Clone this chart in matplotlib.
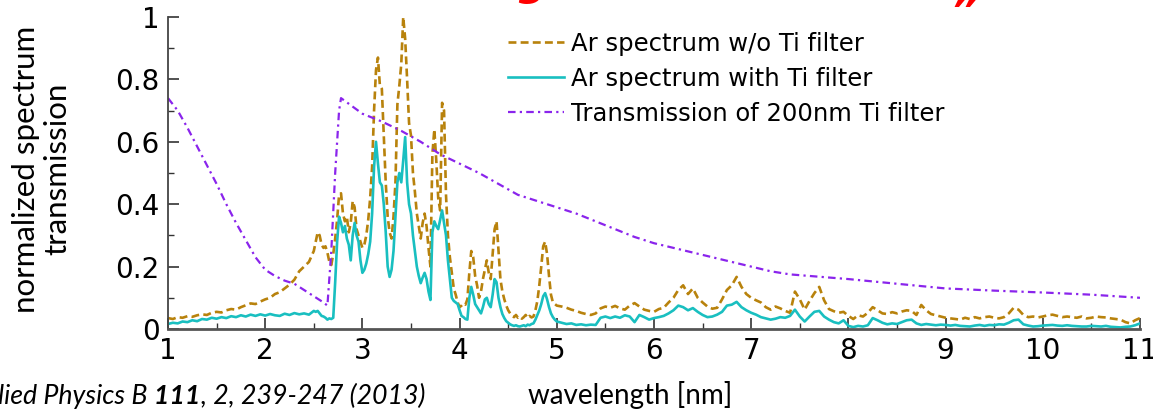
import numpy as np
import matplotlib
matplotlib.use("Agg")
import matplotlib.pyplot as plt
from matplotlib.ticker import MultipleLocator, FuncFormatter

# ---------------- data ----------------
# wavelength grid [nm]: coarse / fine (line region) / coarse
wl_seg1 = np.round(np.arange(1.00, 2.501, 0.05), 2)   # 31 pts
wl_seg2 = np.round(np.arange(2.52, 5.001, 0.02), 2)   # 125 pts
wl_seg3 = np.round(np.arange(5.05, 11.001, 0.05), 2)  # 120 pts
wavelength = np.concatenate([wl_seg1, wl_seg2, wl_seg3])

ar_no_filter_1 = [0.035, 0.032, 0.038, 0.036, 0.041, 0.039, 0.044, 0.047, 0.045, 0.052,
                  0.055, 0.053, 0.060, 0.064, 0.062, 0.070, 0.076, 0.082, 0.080, 0.088,
                  0.095, 0.100, 0.112, 0.118, 0.130, 0.142, 0.158, 0.185, 0.200, 0.215,
                  0.250]
ar_no_filter_2 = [0.280, 0.310, 0.300, 0.270, 0.260, 0.265, 0.245, 0.215, 0.205, 0.240,
                  0.290, 0.350, 0.430, 0.435, 0.370, 0.345, 0.360, 0.310, 0.340, 0.410,
                  0.390, 0.320, 0.300, 0.280, 0.260, 0.270, 0.300, 0.350, 0.420, 0.520,
                  0.700, 0.830, 0.870, 0.780, 0.770, 0.620, 0.470, 0.360, 0.310, 0.290,
                  0.360, 0.470, 0.720, 0.780, 0.850, 1.000, 0.930, 0.800, 0.660, 0.620,
                  0.500, 0.440, 0.370, 0.330, 0.290, 0.340, 0.370, 0.330, 0.260, 0.200,
                  0.560, 0.640, 0.540, 0.420, 0.380, 0.725, 0.700, 0.430, 0.300, 0.230,
                  0.180, 0.130, 0.110, 0.085, 0.070, 0.075, 0.082, 0.078, 0.095, 0.180,
                  0.250, 0.230, 0.170, 0.140, 0.100, 0.120, 0.160, 0.190, 0.220, 0.180,
                  0.160, 0.240, 0.320, 0.345, 0.250, 0.160, 0.120, 0.095, 0.075, 0.060,
                  0.050, 0.042, 0.038, 0.045, 0.036, 0.040, 0.033, 0.038, 0.045, 0.035,
                  0.042, 0.037, 0.040, 0.060, 0.090, 0.140, 0.200, 0.265, 0.280, 0.240,
                  0.170, 0.110, 0.085, 0.080, 0.075]
ar_no_filter_3 = [0.072, 0.068, 0.062, 0.058, 0.052, 0.048, 0.045, 0.050, 0.066, 0.072,
                  0.068, 0.074, 0.066, 0.062, 0.075, 0.083, 0.072, 0.062, 0.058, 0.055,
                  0.064, 0.068, 0.085, 0.100, 0.125, 0.140, 0.112, 0.130, 0.100, 0.085,
                  0.072, 0.065, 0.068, 0.095, 0.125, 0.140, 0.167, 0.135, 0.112, 0.100,
                  0.092, 0.085, 0.070, 0.062, 0.072, 0.066, 0.058, 0.052, 0.120, 0.095,
                  0.062, 0.090, 0.115, 0.135, 0.092, 0.064, 0.057, 0.052, 0.055, 0.042,
                  0.032, 0.044, 0.040, 0.052, 0.070, 0.060, 0.050, 0.048, 0.054, 0.050,
                  0.056, 0.060, 0.058, 0.045, 0.077, 0.060, 0.048, 0.044, 0.040, 0.036,
                  0.034, 0.032, 0.030, 0.036, 0.032, 0.038, 0.034, 0.038, 0.040, 0.036,
                  0.034, 0.038, 0.050, 0.068, 0.062, 0.045, 0.038, 0.040, 0.037, 0.040,
                  0.044, 0.046, 0.042, 0.038, 0.040, 0.038, 0.036, 0.040, 0.034, 0.036,
                  0.040, 0.038, 0.037, 0.034, 0.032, 0.030, 0.022, 0.018, 0.028, 0.035]

ar_ti_filter_1 = [0.016, 0.020, 0.018, 0.024, 0.022, 0.028, 0.025, 0.032, 0.030, 0.036,
                  0.033, 0.038, 0.035, 0.041, 0.038, 0.044, 0.040, 0.046, 0.042, 0.047,
                  0.043, 0.048, 0.044, 0.042, 0.049, 0.045, 0.051, 0.047, 0.050, 0.046,
                  0.058]
ar_ti_filter_2 = [0.055, 0.058, 0.050, 0.042, 0.040, 0.036, 0.030, 0.034, 0.032, 0.036,
                  0.150, 0.280, 0.360, 0.340, 0.310, 0.330, 0.290, 0.270, 0.220, 0.300,
                  0.340, 0.300, 0.280, 0.220, 0.180, 0.190, 0.210, 0.240, 0.280, 0.370,
                  0.520, 0.600, 0.530, 0.470, 0.460, 0.400, 0.310, 0.200, 0.167, 0.190,
                  0.250, 0.360, 0.470, 0.500, 0.470, 0.540, 0.615, 0.470, 0.400, 0.370,
                  0.300, 0.250, 0.200, 0.170, 0.147, 0.165, 0.180, 0.160, 0.120, 0.093,
                  0.310, 0.345, 0.330, 0.320, 0.350, 0.380, 0.340, 0.300, 0.220, 0.160,
                  0.100, 0.090, 0.085, 0.080, 0.060, 0.042, 0.038, 0.032, 0.030, 0.100,
                  0.135, 0.110, 0.080, 0.070, 0.060, 0.050, 0.070, 0.095, 0.100, 0.080,
                  0.070, 0.110, 0.160, 0.150, 0.100, 0.070, 0.048, 0.035, 0.025, 0.020,
                  0.015, 0.012, 0.010, 0.012, 0.009, 0.008, 0.010, 0.012, 0.009, 0.014,
                  0.012, 0.016, 0.018, 0.030, 0.045, 0.060, 0.080, 0.105, 0.115, 0.095,
                  0.070, 0.050, 0.038, 0.030, 0.024]
ar_ti_filter_3 = [0.020, 0.016, 0.018, 0.013, 0.015, 0.012, 0.014, 0.013, 0.036, 0.040,
                  0.035, 0.040, 0.036, 0.044, 0.040, 0.022, 0.045, 0.038, 0.030, 0.035,
                  0.038, 0.042, 0.050, 0.060, 0.075, 0.070, 0.060, 0.067, 0.055, 0.045,
                  0.038, 0.040, 0.046, 0.055, 0.075, 0.078, 0.087, 0.070, 0.060, 0.052,
                  0.046, 0.038, 0.034, 0.030, 0.033, 0.038, 0.036, 0.042, 0.062, 0.040,
                  0.024, 0.040, 0.055, 0.058, 0.040, 0.030, 0.022, 0.018, 0.028, 0.010,
                  0.006, 0.010, 0.008, 0.012, 0.035, 0.028, 0.020, 0.015, 0.018, 0.016,
                  0.022, 0.028, 0.030, 0.018, 0.013, 0.016, 0.014, 0.012, 0.014, 0.013,
                  0.011, 0.013, 0.010, 0.009, 0.008, 0.011, 0.013, 0.010, 0.013, 0.012,
                  0.015, 0.014, 0.020, 0.028, 0.030, 0.015, 0.011, 0.008, 0.009, 0.011,
                  0.012, 0.013, 0.011, 0.010, 0.012, 0.010, 0.009, 0.008, 0.008, 0.010,
                  0.009, 0.008, 0.010, 0.007, 0.006, 0.005, 0.007, 0.008, 0.012, 0.018]

ar_no_filter = np.array(ar_no_filter_1 + ar_no_filter_2 + ar_no_filter_3)
ar_ti_filter = np.array(ar_ti_filter_1 + ar_ti_filter_2 + ar_ti_filter_3)

# transmission of 200 nm Ti filter
trans_wl = [1.0, 1.1, 1.2, 1.3, 1.4, 1.5, 1.6, 1.7, 1.8, 1.9, 2.0, 2.1, 2.2, 2.3, 2.4,
            2.5, 2.6, 2.64, 2.68, 2.72, 2.76, 2.78, 3.0, 3.2, 3.4, 3.6, 3.8, 4.0, 4.2,
            4.4, 4.6, 4.8, 5.0, 5.2, 5.4, 5.6, 5.8, 6.0, 6.2, 6.4, 6.6, 6.8, 7.0, 7.2,
            7.4, 7.6, 7.8, 8.0, 8.5, 9.0, 9.5, 10.0, 10.5, 11.0]
trans = [0.740, 0.700, 0.645, 0.585, 0.525, 0.465, 0.400, 0.340, 0.285, 0.230, 0.190,
         0.170, 0.155, 0.145, 0.125, 0.105, 0.085, 0.075, 0.250, 0.500, 0.700, 0.740,
         0.690, 0.665, 0.635, 0.600, 0.560, 0.530, 0.500, 0.465, 0.430, 0.410, 0.390,
         0.370, 0.345, 0.320, 0.295, 0.275, 0.260, 0.245, 0.230, 0.215, 0.200, 0.185,
         0.175, 0.170, 0.165, 0.160, 0.145, 0.130, 0.123, 0.117, 0.110, 0.100]

labels = ["Ar spectrum w/o Ti filter", "Ar spectrum with Ti filter",
          "Transmission of 200nm Ti filter"]
x_ticks = [1, 2, 3, 4, 5, 6, 7, 8, 9, 10, 11]
y_ticks = [0, 0.2, 0.4, 0.6, 0.8, 1]

# ---------------- figure ----------------
W, H = 1153, 412
fig = plt.figure(figsize=(W / 100, H / 100), dpi=100)

def fx(px):
    return px / W

def fy(py):
    return 1 - py / H

ax = fig.add_axes([fx(168), fy(329), fx(1140) - fx(168), fy(17) - fy(329)])

c_brown = "#B8820C"
c_cyan = "#19BFC0"
c_purple = "#8A24EC"

l1, = ax.plot(wavelength, ar_no_filter, color=c_brown, lw=1.9, dashes=(3.0, 1.6),
              label=labels[0])
l2, = ax.plot(wavelength, ar_ti_filter, color=c_cyan, lw=1.9, label=labels[1])
l3, = ax.plot(trans_wl, trans, color=c_purple, lw=1.6, dashes=(3.4, 1.9, 1.0, 1.9),
              label=labels[2])

ax.set_xlim(1, 11)
ax.set_ylim(0, 1)
ax.set_xticks(x_ticks)
ax.set_yticks(y_ticks)
ax.xaxis.set_minor_locator(MultipleLocator(0.5))
ax.yaxis.set_minor_locator(MultipleLocator(0.1))
ax.yaxis.set_major_formatter(FuncFormatter(lambda v, p: "%g" % v))

for s in ["top", "right"]:
    ax.spines[s].set_visible(False)
ax.spines["left"].set_color("#444444")
ax.spines["left"].set_linewidth(1.3)
ax.spines["bottom"].set_color("#555555")
ax.spines["bottom"].set_linewidth(2.0)

ax.tick_params(which="both", direction="in", color="#333333")
ax.tick_params(which="major", length=8, width=1.2)
ax.tick_params(which="minor", length=4, width=1.0)
ax.tick_params(axis="x", which="major", pad=6)
ax.tick_params(axis="y", which="major", pad=6)
for lab in ax.get_xticklabels() + ax.get_yticklabels():
    lab.set_fontfamily("DejaVu Sans")
    lab.set_fontsize(20)
    lab.set_color("black")

leg = fig.legend(handles=[l1, l2, l3], loc="upper left",
                 bbox_to_anchor=(fx(508), fy(32)), frameon=False,
                 prop={"family": "DejaVu Sans", "size": 17.5},
                 handlelength=2.3, handletextpad=0.3, labelspacing=0.45,
                 borderpad=0, borderaxespad=0)

# axis labels
fig.text(fx(42), fy(169), "normalized spectrum\ntransmission", rotation=90,
         ha="center", va="center", multialignment="center",
         family="Lato", fontsize=22.5, linespacing=1.15)
fig.text(fx(630), fy(404), "wavelength [nm]", ha="center", va="baseline",
         family="Lato", fontsize=20)

# citation (partly cut at the left edge)
cit_size = 19.3
t3 = fig.text(fx(425), fy(404), ", 2, 239-247 (2013)", ha="right", va="baseline",
              family="Lato", style="italic", fontsize=cit_size)
t2 = fig.text(0, 0, " 111", ha="right", va="baseline", family="Lato",
              style="italic", weight="bold", fontsize=cit_size)
t1 = fig.text(0, 0, "Applied Physics B", ha="right", va="baseline", family="Lato",
              style="italic", fontsize=cit_size)
fig.canvas.draw()
r = fig.canvas.get_renderer()
bb3 = t3.get_window_extent(r)
t2.set_position((bb3.x0 / W, fy(404)))
fig.canvas.draw()
bb2 = t2.get_window_extent(r)
t1.set_position((bb2.x0 / W, fy(404)))

# title fragments (cut at the top edge)
fig.text(fx(517), fy(-5), "g", ha="left", va="baseline", color="red",
         family="DejaVu Sans", weight="bold", style="italic", fontsize=30)
fig.text(fx(955), fy(2), "\u201e", ha="left", va="baseline", color="red",
         family="DejaVu Sans", weight="bold", style="italic", fontsize=30)

fig.savefig("out.png", dpi=100)
